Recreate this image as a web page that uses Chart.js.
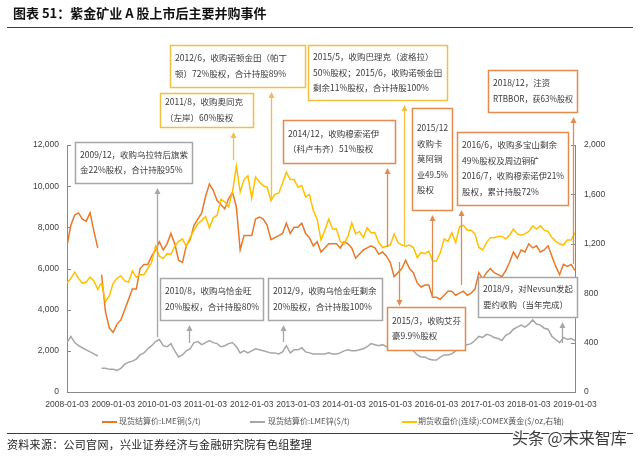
<!DOCTYPE html>
<html>
<head>
<meta charset="utf-8">
<script src="https://cdn.jsdelivr.net/npm/chart.js@4.4.1/dist/chart.umd.min.js"></script>
<style>
  html, body { margin: 0; padding: 0; background: #fff; }
  #wrap { position: relative; width: 640px; height: 456px; overflow: hidden; }
  #chart { position: absolute; left: 0; top: 0; }
  #title { position: absolute; left: 13px; top: 3px; font: bold 13px 'Noto Sans CJK SC', sans-serif; color: #111; white-space: nowrap; }
  #rule1 { position: absolute; left: 7px; top: 27px; width: 626px; height: 0; border-top: 1.5px solid #2e3b66; }
  #rule2 { position: absolute; left: 7px; top: 433px; width: 626px; height: 0; border-top: 1.5px solid #2e3b66; }
  #source { position: absolute; left: 7px; top: 436px; font: 11px 'Noto Sans CJK SC', sans-serif; letter-spacing: 0.3px; color: #222; white-space: nowrap; }
  #mark { position: absolute; left: 512px; top: 425px; font: 16px 'Noto Sans CJK SC', sans-serif; color: #3c3c3c; white-space: nowrap;
          text-shadow: 1px 1px 0 #fff, -1px -1px 0 #fff, 1px -1px 0 #fff, -1px 1px 0 #fff; }
  .lg { position: absolute; top: 415px; font: 8px 'Liberation Sans Narrow', 'Noto Sans CJK SC', sans-serif; color: #555; white-space: nowrap; line-height: 12px; }
  .lgline { position: absolute; top: 421px; height: 2px; width: 15px; }
</style>
</head>
<body>
<div id="wrap">
  <canvas id="chart" width="640" height="456"></canvas>
  <div id="title">图表 51：紫金矿业 A 股上市后主要并购事件</div>
  <div id="rule1"></div>
  <div class="lgline" style="left:102px;background:#e8782a"></div>
  <div class="lg" style="left:119px">现货结算价:LME铜($/t)</div>
  <div class="lgline" style="left:250px;background:#a6a6a6"></div>
  <div class="lg" style="left:268px">现货结算价:LME锌($/t)</div>
  <div class="lgline" style="left:402px;background:#ffc000"></div>
  <div class="lg" style="left:418px">期货收盘价(连续):COMEX黄金($/oz,右轴)</div>
  <div id="rule2"></div>
  <div id="source">资料来源：公司官网，兴业证券经济与金融研究院有色组整理</div>
  <div id="mark">头条 @未来智库</div>
</div>
<script>
// month points (first of month); '2008-09-20' is a gap in the LME data
const months = [
  '2008-01','2008-02','2008-03','2008-04','2008-05','2008-06','2008-07','2008-08','2008-09','2008-09-20','2008-10','2008-11','2008-12',
  '2009-01','2009-02','2009-03','2009-04','2009-05','2009-06','2009-07','2009-08','2009-09','2009-10','2009-11','2009-12',
  '2010-01','2010-02','2010-03','2010-04','2010-05','2010-06','2010-07','2010-08','2010-09','2010-10','2010-11','2010-12',
  '2011-01','2011-02','2011-03','2011-04','2011-05','2011-06','2011-07','2011-08','2011-09','2011-10','2011-11','2011-12',
  '2012-01','2012-02','2012-03','2012-04','2012-05','2012-06','2012-07','2012-08','2012-09','2012-10','2012-11','2012-12',
  '2013-01','2013-02','2013-03','2013-04','2013-05','2013-06','2013-07','2013-08','2013-09','2013-10','2013-11','2013-12',
  '2014-01','2014-02','2014-03','2014-04','2014-05','2014-06','2014-07','2014-08','2014-09','2014-10','2014-11','2014-12',
  '2015-01','2015-02','2015-03','2015-04','2015-05','2015-06','2015-07','2015-08','2015-09','2015-10','2015-11','2015-12',
  '2016-01','2016-02','2016-03','2016-04','2016-05','2016-06','2016-07','2016-08','2016-09','2016-10','2016-11','2016-12',
  '2017-01','2017-02','2017-03','2017-04','2017-05','2017-06','2017-07','2017-08','2017-09','2017-10','2017-11','2017-12',
  '2018-01','2018-02','2018-03','2018-04','2018-05','2018-06','2018-07','2018-08','2018-09','2018-10','2018-11','2018-12',
  '2019-01'
];

// 现货结算价:LME铜 ($/t)
const copper = [
  7100, 8100, 8600, 8700, 8400, 8300, 8700, 7800, 7000, null, 5700, 3900, 3100,
  2900, 3300, 3500, 4000, 4500, 5000, 5000, 6000, 6200, 6200, 6600, 6900,
  7300, 6900, 7200, 7700, 7200, 6400, 6300, 7100, 7400, 8100, 8400, 8700,
  9500, 10100, 9800, 9300, 9100, 8900, 9400, 9700, 9000, 6900, 7600, 7600,
  7600, 8400, 8500, 8400, 8100, 7400, 7500, 7600, 7700, 8200, 7700, 8000,
  8000, 8200, 7700, 7500, 7100, 7300, 6800, 7000, 7200, 7200, 7200, 7000,
  7300, 7200, 7000, 6500, 6700, 6900, 7000, 7100, 7000, 6700, 6800, 6600,
  6300, 5600, 5800, 6000, 6400, 6000, 5800, 5300, 5100, 5200, 5200, 4600,
  4600, 4500, 4700, 4900, 4900, 4700, 4800, 4900, 4700, 4800, 5000, 5800,
  5500, 5800, 6000, 5800, 5700, 5600, 5900, 6300, 6800, 6500, 6900, 6800,
  7200, 7000, 7100, 6800, 6900, 7100, 6600, 6100, 5700, 6200, 6100, 6200,
  5900
];

// 现货结算价:LME锌 ($/t)
const zinc = [
  2400, 2700, 2400, 2250, 2150, 2050, 1950, 1850, 1750, null, 1150, 1150, 1100,
  1100, 1050, 1150, 1350, 1450, 1500, 1600, 1800, 1900, 2100, 2250, 2450,
  2550, 2250, 2200, 2350, 2000, 1700, 1800, 2000, 2100, 2400, 2450, 2300,
  2400, 2500, 2400, 2350, 2200, 2250, 2350, 2400, 2200, 1900, 2000, 1900,
  2000, 2100, 2050, 2000, 1950, 1900, 1900, 1850, 1950, 2250, 1900, 2050,
  2050, 2150, 1950, 1900, 1850, 1850, 1850, 1850, 1900, 1850, 1850, 1900,
  2000, 2050, 2000, 2000, 2050, 2100, 2200, 2350, 2300, 2250, 2300, 2200,
  2150, 2100, 2050, 2200, 2300, 2100, 2000, 1800, 1700, 1700, 1600, 1550,
  1550, 1700, 1800, 1800, 1850, 2000, 2150, 2300, 2300, 2350, 2500, 2700,
  2650, 2800, 2750, 2650, 2600, 2500, 2750, 2850, 3050, 3150, 3250, 3150,
  3300, 3500, 3300, 3250, 3100, 3050, 2700, 2550, 2400, 2650, 2550, 2600,
  2500
];

// 期货收盘价(连续):COMEX黄金 ($/oz, right axis)
const gold = [
  880, 920, 970, 920, 880, 890, 930, 900, 830, 870, 880, 730, 780,
  880, 920, 940, 900, 890, 980, 930, 950, 950, 1000, 1050, 1180,
  1100, 1080, 1120, 1115, 1180, 1220, 1240, 1180, 1250, 1310, 1360, 1390,
  1420, 1330, 1410, 1430, 1560, 1540, 1500, 1620, 1830, 1620, 1720, 1750,
  1570, 1740, 1700, 1670, 1660, 1550, 1600, 1610, 1690, 1780, 1720, 1720,
  1660, 1670, 1580, 1600, 1470, 1400, 1230, 1310, 1400, 1320, 1320, 1220,
  1200, 1260, 1370, 1280, 1300, 1250, 1330, 1290, 1290, 1210, 1170, 1180,
  1190, 1280, 1210, 1190, 1180, 1190, 1170, 1090, 1130, 1120, 1140, 1060,
  1060, 1130, 1240, 1220, 1290, 1210, 1340, 1350, 1310, 1310, 1280, 1170,
  1150, 1210, 1250, 1250, 1260, 1260, 1240, 1270, 1320, 1280, 1270, 1280,
  1300, 1345, 1320, 1345, 1310, 1300, 1250, 1220, 1200, 1190, 1230, 1230,
  1290
];

const tickLabels = ['2008-01-03','2009-01-03','2010-01-03','2011-01-03','2012-01-03','2013-01-03',
  '2014-01-03','2015-01-03','2016-01-03','2017-01-03','2018-01-03','2019-01-03'];

// acquisition notes: box in pixels, arrow at the event date
const notes = [
  { date: '2012-06-01', from: 200, to: 92, color: '#f2c040', box: [170, 45, 135, 42],
    lines: ['2012/6，收购诺顿金田（帕丁', '顿）72%股权，合计持股89%'] },
  { date: '2011-08-03', from: 160, to: 132, color: '#f2c040', box: [160, 93, 93, 34],
    lines: ['2011/8，收购奥同克', '（左岸）60%股权'] },
  { date: '2009-12-13', from: 337, to: 188, color: '#a6a6a6', box: [75, 142, 117, 41],
    lines: ['2009/12，收购乌拉特后旗紫', '金22%股权，合计持股95%'] },
  { date: '2010-08-20', from: 343, to: 325, color: '#a6a6a6', box: [160, 278, 103, 42],
    lines: ['2010/8，收购乌恰金旺', '20%股权，合计持股80%'] },
  { date: '2012-09-03', from: 342, to: 325, color: '#a6a6a6', box: [268, 278, 114, 42],
    lines: ['2012/9，收购乌恰金旺剩余', '20%股权，合计持股100%'] },
  { date: '2014-12-05', from: 247, to: 168, color: '#e58a4e', box: [283, 120, 112, 43],
    lines: ['2014/12，收购穆索诺伊', '（科卢韦齐）51%股权'] },
  { date: '2015-04-20', from: 245, to: 105, color: '#f2c040', box: [308, 45, 139, 55],
    lines: ['2015/5，收购巴理克（波格拉）', '50%股权；2015/6，收购诺顿金田', '剩余11%股权，合计持股100%'] },
  { date: '2015-11-25', from: 298, to: 215, color: '#e58a4e', box: [412, 108, 40, 102],
    lines: ['2015/12', '收购卡', '莫阿铜', '业49.5%', '股权'] },
  { date: '2016-07-12', from: 285, to: 210, color: '#e58a4e', box: [457, 132, 111, 73],
    lines: ['2016/6，收购多宝山剩余', '49%股权及周边铜矿', '2016/7，收购穆索诺伊21%', '股权，累计持股72%'] },
  { date: '2018-12-14', from: 264, to: 117, color: '#e58a4e', box: [488, 70, 89, 42],
    lines: ['2018/12，注资', 'RTBBOR，获63%股权'] },
  { date: '2015-03-10', from: 262, to: 306, color: '#e58a4e', box: [387, 307, 78, 43],
    lines: ['2015/3，收购艾芬', '豪9.9%股权'] },
  { date: '2018-09-17', from: 343, to: 322, color: '#a6a6a6', box: [478, 277, 99, 40],
    lines: ['2018/9，对Nevsun发起', '要约收购（当年完成）'] }
];

function toX(s) {
  const p = s.split('-').map(Number);
  return p[0] + (p[1] - 1) / 12 + (p[2] ? (p[2] - 1) / 365 : 0);
}
function pts(vals) {
  return months.map((m, i) => ({ x: toX(m), y: vals[i] }));
}

const tickFont = { family: "'Liberation Sans Narrow', 'Liberation Sans', sans-serif", size: 8.5 };

const notePlugin = {
  id: 'notes',
  afterDatasetsDraw(chart) {
    const ctx = chart.ctx;
    const xs = chart.scales.x;
    const area = chart.chartArea;
    ctx.save();
    // inward tick marks on both value axes
    ctx.strokeStyle = '#888';
    ctx.lineWidth = 1;
    ['y', 'y1'].forEach(id => {
      const sc = chart.scales[id];
      sc.ticks.forEach(t => {
        const y = Math.round(sc.getPixelForValue(t.value)) + 0.5;
        ctx.beginPath();
        if (id === 'y') { ctx.moveTo(area.left, y); ctx.lineTo(area.left + 4, y); }
        else { ctx.moveTo(area.right - 4, y); ctx.lineTo(area.right, y); }
        ctx.stroke();
      });
    });
    // arrows
    notes.forEach(n => {
      const x = Math.round(xs.getPixelForValue(toX(n.date))) + 0.5;
      const dir = n.to < n.from ? -1 : 1;
      ctx.strokeStyle = n.color;
      ctx.fillStyle = n.color;
      ctx.lineWidth = 1.3;
      ctx.beginPath();
      ctx.moveTo(x, n.from);
      ctx.lineTo(x, n.to - dir * 5);
      ctx.stroke();
      ctx.beginPath();
      ctx.moveTo(x, n.to);
      ctx.lineTo(x - 3, n.to - dir * 6);
      ctx.lineTo(x + 3, n.to - dir * 6);
      ctx.closePath();
      ctx.fill();
    });
    // boxes
    ctx.font = "8.5px 'Noto Sans CJK SC', sans-serif";
    ctx.textBaseline = 'middle';
    ctx.textAlign = 'left';
    notes.forEach(n => {
      const [bx, by, bw, bh] = n.box;
      ctx.fillStyle = '#fff';
      ctx.fillRect(bx, by, bw, bh);
      ctx.strokeStyle = n.color;
      ctx.lineWidth = 1.5;
      ctx.strokeRect(bx + 0.5, by + 0.5, bw, bh);
      ctx.fillStyle = '#3a3a3a';
      const lh = 15.5;
      const y0 = by + bh / 2 - (n.lines.length - 1) * lh / 2;
      n.lines.forEach((t, i) => ctx.fillText(t, bx + 5, y0 + i * lh, bw - 9));
    });
    ctx.restore();
  }
};

new Chart(document.getElementById('chart').getContext('2d'), {
  type: 'line',
  data: {
    datasets: [
      { label: '现货结算价:LME铜($/t)', data: pts(copper), yAxisID: 'y', order: 3,
        borderColor: '#e8782a', borderWidth: 1.5, pointRadius: 0, tension: 0, spanGaps: false },
      { label: '现货结算价:LME锌($/t)', data: pts(zinc), yAxisID: 'y', order: 2,
        borderColor: '#a6a6a6', borderWidth: 1.5, pointRadius: 0, tension: 0, spanGaps: false },
      { label: '期货收盘价(连续):COMEX黄金($/oz,右轴)', data: pts(gold), yAxisID: 'y1', order: 1,
        borderColor: '#ffc000', borderWidth: 1.5, pointRadius: 0, tension: 0 }
    ]
  },
  options: {
    responsive: false,
    animation: false,
    layout: { padding: { top: 145, bottom: 42, left: 0, right: 0 } },
    plugins: { legend: { display: false }, tooltip: { enabled: false } },
    scales: {
      x: {
        type: 'linear', min: 2008, max: 2019,
        afterFit: s => { s.height = 22; },
        afterBuildTicks: s => { s.ticks = tickLabels.map((t, i) => ({ value: 2008 + i })); },
        grid: { display: false, drawTicks: false },
        border: { display: true, color: '#888' },
        ticks: { autoSkip: false, maxRotation: 0, padding: 8, color: '#404040', font: tickFont,
          callback: v => tickLabels[Math.round(v) - 2008] }
      },
      y: {
        position: 'left', min: 0, max: 12000,
        afterFit: s => { s.width = 67; },
        grid: { display: false, drawTicks: false },
        border: { display: true, color: '#888' },
        ticks: { stepSize: 2000, padding: 8, color: '#404040', font: tickFont }
      },
      y1: {
        position: 'right', min: 0, max: 2000,
        afterFit: s => { s.width = 65; },
        grid: { display: false, drawTicks: false },
        border: { display: true, color: '#888' },
        ticks: { stepSize: 400, padding: 9, color: '#404040', font: tickFont }
      }
    }
  },
  plugins: [notePlugin]
});
</script>
</body>
</html>
